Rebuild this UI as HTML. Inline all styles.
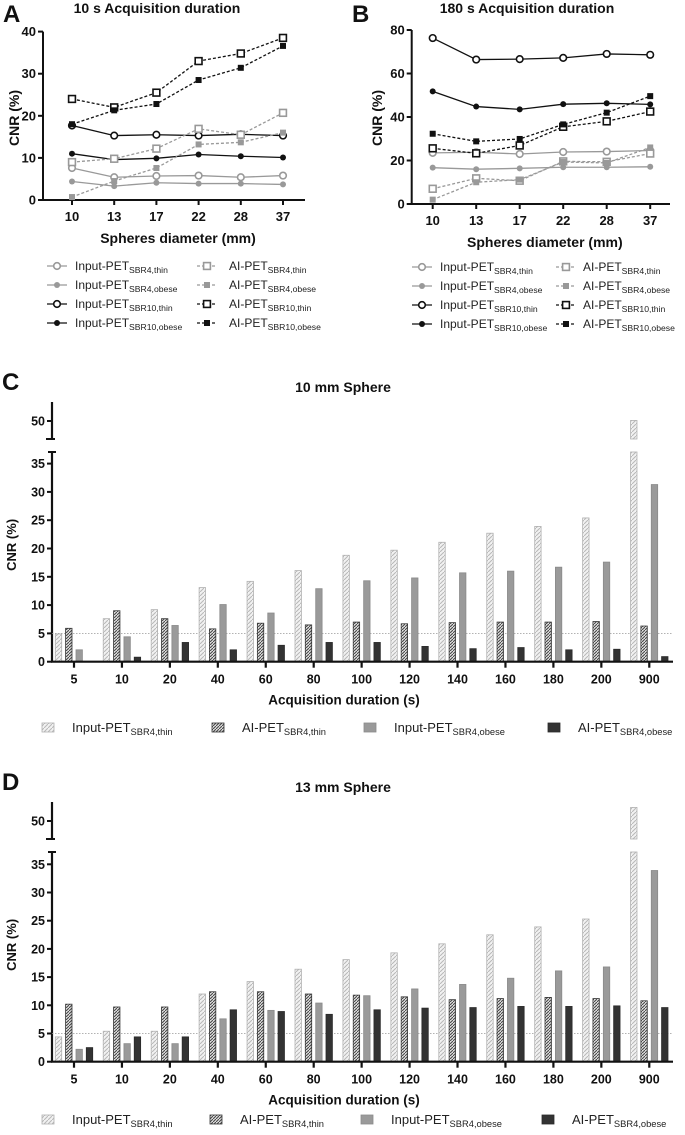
<!DOCTYPE html>
<html><head><meta charset="utf-8"><style>
body{margin:0;background:#fff}
svg{display:block;font-family:"Liberation Sans",Arial,sans-serif}
.b{font-weight:bold}
</style></head><body>
<svg id="s" width="685" height="1135" viewBox="0 0 685 1135" xmlns="http://www.w3.org/2000/svg">
<defs>
<pattern id="hatchLight" width="4" height="4" patternUnits="userSpaceOnUse"><rect width="4" height="4" fill="#f2f2f2"/><path d="M0,4 L4,0" stroke="#b8b8b8" stroke-width="1"/></pattern>
<pattern id="hatchDark" width="3" height="3" patternUnits="userSpaceOnUse"><rect width="3" height="3" fill="#e0e0e0"/><path d="M0,3 L3,0" stroke="#444" stroke-width="1"/></pattern>
</defs>
<g id="root"></g>
</svg>
<script>
// ---------- DATA ----------
const lineCats = ["10","13","17","22","28","37"];
const aInSBR4thin = [7.6,5.4,5.7,5.8,5.4,5.8];
const aInSBR4obese = [4.4,3.3,4.1,3.9,3.9,3.7];
const aInSBR10thin = [17.7,15.3,15.5,15.3,15.6,15.3];
const aInSBR10obese = [11,9.6,9.9,10.8,10.4,10.1];
const aAiSBR4thin = [9,9.8,12.2,16.9,15.5,20.7];
const aAiSBR4obese = [0.7,4.5,7.6,13.2,13.7,16];
const aAiSBR10thin = [24,22,25.5,33,34.8,38.5];
const aAiSBR10obese = [18,21.3,22.8,28.5,31.4,36.6];
const aTicks = [0,10,20,30,40];

const bInSBR4thin = [23.5,23.8,23,23.9,24.1,24.6];
const bInSBR4obese = [16.7,16,16.4,16.9,16.9,17.1];
const bInSBR10thin = [76.3,66.4,66.6,67.2,69,68.6];
const bInSBR10obese = [51.8,44.8,43.5,45.9,46.3,45.8];
const bAiSBR4thin = [7,11.8,10.7,19.6,19.4,23.2];
const bAiSBR4obese = [2,10,11.2,19.3,18.9,26];
const bAiSBR10thin = [25.6,23.3,26.9,35.5,38,42.5];
const bAiSBR10obese = [32.3,28.8,29.9,36.6,42,49.6];
const bTicks = [0,20,40,60,80];

const barCats = ["5","10","20","40","60","80","100","120","140","160","180","200","900"];
const cInThin = [4.9,7.6,9.2,13.1,14.2,16.1,18.8,19.7,21.1,22.7,23.9,25.4,50.1];
const cAiThin = [5.9,9.0,7.6,5.8,6.8,6.5,7.0,6.7,6.9,7.0,7.0,7.1,6.3];
const cInObese = [2.1,4.4,6.4,10.1,8.6,12.9,14.3,14.8,15.7,16.0,16.7,17.6,31.3];
const cAiObese = [0,0.8,3.4,2.1,2.9,3.4,3.4,2.7,2.3,2.5,2.1,2.2,0.9];
const dInThin = [4.4,5.4,5.4,12.0,14.2,16.4,18.1,19.3,20.9,22.5,23.9,25.3,52.4];
const dAiThin = [10.2,9.7,9.7,12.4,12.4,12.0,11.8,11.5,11.0,11.2,11.4,11.2,10.8];
const dInObese = [2.2,3.2,3.2,7.6,9.1,10.4,11.7,12.9,13.7,14.8,16.1,16.8,33.9];
const dAiObese = [2.5,4.4,4.4,9.2,8.9,8.4,9.2,9.5,9.6,9.8,9.8,9.9,9.6];
const barTicks = [0,5,10,15,20,25,30,35];

// ---------- HELPERS ----------
const NS="http://www.w3.org/2000/svg";
const root=document.getElementById('root');
function mk(tag,attrs,parent){const e=document.createElementNS(NS,tag);for(const k in attrs)e.setAttribute(k,attrs[k]);(parent||root).appendChild(e);return e;}
function txt(x,y,s,size,opts,parent){opts=opts||{};const t=mk('text',{x:x,y:y,'font-size':size,'text-anchor':opts.anchor||'start','font-weight':opts.bold?'bold':'normal',fill:opts.fill||'#111'},parent);if(opts.rot)t.setAttribute('transform','rotate(-90 '+x+' '+y+')');t.textContent=s;return t;}
function legText(x,y,main,sub,parent,size){const t=mk('text',{x:x,y:y,'font-size':size||12,fill:'#222'},parent);t.textContent=main;const ts=mk('tspan',{'font-size':(size||12)*0.72,dy:3},t);ts.textContent=sub;return t;}
function marker(g,type,x,y,color){
  if(type==='oc'){mk('circle',{cx:x,cy:y,r:3.3,fill:'#fff',stroke:color,'stroke-width':1.6},g);}
  else if(type==='fc'){mk('circle',{cx:x,cy:y,r:3,fill:color},g);}
  else if(type==='os'){mk('rect',{x:x-3.4,y:y-3.4,width:6.8,height:6.8,fill:'#fff',stroke:color,'stroke-width':1.6},g);}
  else {mk('rect',{x:x-3,y:y-3,width:6,height:6,fill:color},g);}
}

// ---------- LINE PANELS ----------
function linePanel(cfg){
  const g=mk('g',{});
  
  
  const xs=i=>cfg.x0+i*cfg.step;
  const ys=v=>cfg.y0-v*cfg.k;
  const top=ys(cfg.ticks[cfg.ticks.length-1]);
  const ax=mk('g',{},g);
  
  
  mk('line',{x1:cfg.axL,y1:top,x2:cfg.axL,y2:cfg.y0+1,stroke:'#111','stroke-width':2},ax);
  cfg.ticks.forEach(t=>{mk('line',{x1:cfg.axL-5,y1:ys(t),x2:cfg.axL,y2:ys(t),stroke:'#111','stroke-width':2},ax);txt(cfg.axL-7,ys(t)+4.5,String(t),13,{anchor:'end',bold:true},ax);});
  const xa=mk('g',{},g);
  
  
  mk('line',{x1:cfg.axL-1,y1:cfg.y0,x2:cfg.axR,y2:cfg.y0,stroke:'#111','stroke-width':2},xa);
  lineCats.forEach((c,i)=>{mk('line',{x1:xs(i),y1:cfg.y0,x2:xs(i),y2:cfg.y0+5,stroke:'#111','stroke-width':2},xa);txt(xs(i),cfg.y0+21,c,13,{anchor:'middle',bold:true},xa);});
  const yt=txt(cfg.ylx,cfg.yly,'CNR (%)',14,{anchor:'middle',bold:true,rot:true},g);
  
  
  const xt=txt((cfg.axL+cfg.axR)/2+4,cfg.y0+43,'Spheres diameter (mm)',14,{anchor:'middle',bold:true},g);
  
  
  const tt=txt(cfg.tx,13,cfg.title,14,{anchor:'middle',bold:true},g);
  
  
  const lt=txt(cfg.lx,22,cfg.letter,24,{bold:true},g);
  
  
  cfg.series.forEach(s=>{
    const sg=mk('g',{},g);
    
    
    const pts=s.data.map((v,i)=>xs(i)+','+ys(v)).join(' ');
    mk('polyline',{points:pts,fill:'none',stroke:s.color,'stroke-width':1.3,'stroke-dasharray':s.dash?'3,2':'none'},sg);
    s.data.forEach((v,i)=>marker(sg,s.m,xs(i),ys(v),s.color));
  });
  // legend
  const lg=mk('g',{},g);
  
  
  const order=[0,1,2,3];
  cfg.series.forEach((s,idx)=>{
    const col=idx<4?0:1,row=idx%4;
    const lx=col?cfg.legR:cfg.legL,ly=cfg.legY+row*19;
    const e=mk('g',{},lg);
    
    
    mk('line',{x1:lx,y1:ly,x2:lx+20,y2:ly,stroke:s.color,'stroke-width':1.3,'stroke-dasharray':s.dash?'3,2':'none'},e);
    marker(e,s.m,lx+10,ly,s.color);
    legText(lx+(col?cfg.legTxR:cfg.legTxL),ly+4,s.label,s.sub,e,12);
  });
}
const G='#999',K='#111';
function seriesSet(p){return [
 {key:'input-sbr4-thin',label:'Input-PET',sub:'SBR4,thin',data:p[0],color:G,m:'oc',dash:false},
 {key:'input-sbr4-obese',label:'Input-PET',sub:'SBR4,obese',data:p[1],color:G,m:'fc',dash:false},
 {key:'input-sbr10-thin',label:'Input-PET',sub:'SBR10,thin',data:p[2],color:K,m:'oc',dash:false},
 {key:'input-sbr10-obese',label:'Input-PET',sub:'SBR10,obese',data:p[3],color:K,m:'fc',dash:false},
 {key:'ai-sbr4-thin',label:'AI-PET',sub:'SBR4,thin',data:p[4],color:G,m:'os',dash:true},
 {key:'ai-sbr4-obese',label:'AI-PET',sub:'SBR4,obese',data:p[5],color:G,m:'fs',dash:true},
 {key:'ai-sbr10-thin',label:'AI-PET',sub:'SBR10,thin',data:p[6],color:K,m:'os',dash:true},
 {key:'ai-sbr10-obese',label:'AI-PET',sub:'SBR10,obese',data:p[7],color:K,m:'fs',dash:true}];}
linePanel({name:'panel-a',letter:'A',lx:3,title:'10 s Acquisition duration',tx:157,x0:72,step:42.2,y0:200,k:4.21,axL:43,axR:305,ticks:aTicks,ylx:19,yly:118,
  legL:47,legR:197,legTxL:28,legTxR:32,legY:266,
  series:seriesSet([aInSBR4thin,aInSBR4obese,aInSBR10thin,aInSBR10obese,aAiSBR4thin,aAiSBR4obese,aAiSBR10thin,aAiSBR10obese])});
linePanel({name:'panel-b',letter:'B',lx:352,title:'180 s Acquisition duration',tx:527,x0:432.7,step:43.5,y0:204,k:2.175,axL:411.7,axR:670,ticks:bTicks,ylx:382,yly:118,
  legL:412,legR:556,legTxL:28,legTxR:27,legY:267,
  series:seriesSet([bInSBR4thin,bInSBR4obese,bInSBR10thin,bInSBR10obese,bAiSBR4thin,bAiSBR4obese,bAiSBR10thin,bAiSBR10obese])});

// ---------- BAR PANELS ----------
function barPanel(cfg){
  const g=mk('g',{});
  
  
  const xs=i=>74+i*47.94;
  const ysL=v=>cfg.y0-v*cfg.k;
  const ysU=v=>cfg.y50-(v-50)*cfg.k;
  const ax=mk('g',{},g);
  
  
  const L=52;
  mk('line',{x1:L,y1:cfg.lowTop,x2:L,y2:cfg.y0,stroke:'#111','stroke-width':2.2},ax);
  mk('line',{x1:L-4,y1:cfg.lowTop,x2:L+4,y2:cfg.lowTop,stroke:'#111','stroke-width':2},ax);
  mk('line',{x1:L,y1:cfg.upTop,x2:L,y2:cfg.upBot,stroke:'#111','stroke-width':2.2},ax);
  mk('line',{x1:L-6,y1:cfg.upBot,x2:L+3,y2:cfg.upBot,stroke:'#111','stroke-width':2},ax);
  barTicks.forEach(t=>{mk('line',{x1:L-5,y1:ysL(t),x2:L,y2:ysL(t),stroke:'#111','stroke-width':2},ax);txt(L-7,ysL(t)+4.5,String(t),12.5,{anchor:'end',bold:true},ax);});
  mk('line',{x1:L-5,y1:cfg.y50,x2:L,y2:cfg.y50,stroke:'#111','stroke-width':2},ax);
  txt(L-7,cfg.y50+4.5,'50',12.5,{anchor:'end',bold:true},ax);
  const ref=mk('line',{x1:L,y1:ysL(5),x2:673,y2:ysL(5),stroke:'#999','stroke-width':0.8,'stroke-dasharray':'1.5,1.5'},g);
  
  
  const series=[
    {key:'input-thin',data:cfg.d[0],fill:'url(#hatchLight)',stroke:'#b0b0b0',off:-15.5},
    {key:'ai-thin',data:cfg.d[1],fill:'url(#hatchDark)',stroke:'#333',off:-5.2},
    {key:'input-obese',data:cfg.d[2],fill:'#9a9a9a',stroke:'#8a8a8a',off:5.2},
    {key:'ai-obese',data:cfg.d[3],fill:'#333',stroke:'#2a2a2a',off:15.5}];
  series.forEach(s=>{
    const sg=mk('g',{},g);
    
    
    s.data.forEach((v,i)=>{
      const x=xs(i)+s.off-3.2,w=6.4;
      if(v<=0)return;
      if(v>37){
        const r1=mk('rect',{x:x,y:cfg.lowTop,width:w,height:cfg.y0-cfg.lowTop,fill:s.fill,stroke:s.stroke,'stroke-width':0.8},sg);
        
        
        const yt=ysU(v);
        const r2=mk('rect',{x:x,y:yt,width:w,height:cfg.upBot-yt,fill:s.fill,stroke:s.stroke,'stroke-width':0.8},sg);
        
        
      } else {
        const r=mk('rect',{x:x,y:ysL(v),width:w,height:v*cfg.k,fill:s.fill,stroke:s.stroke,'stroke-width':0.8},sg);
        
        
      }
    });
  });
  const xa=mk('g',{},g);
  
  
  mk('line',{x1:L-1,y1:cfg.y0,x2:673,y2:cfg.y0,stroke:'#111','stroke-width':2.2},xa);
  barCats.forEach((c,i)=>{mk('line',{x1:xs(i),y1:cfg.y0,x2:xs(i),y2:cfg.y0+6,stroke:'#111','stroke-width':2.2},xa);txt(xs(i),cfg.y0+22,c,12.5,{anchor:'middle',bold:true},xa);});
  const yt=txt(16,(cfg.lowTop+cfg.y0)/2-12,'CNR (%)',13,{anchor:'middle',bold:true,rot:true},g);
  
  
  const xt=txt(344,cfg.y0+43,'Acquisition duration (s)',13.5,{anchor:'middle',bold:true},g);
  
  
  const tt=txt(343,cfg.titleY,cfg.title,14,{anchor:'middle',bold:true},g);
  
  
  const lt=txt(2,cfg.titleY-2,cfg.letter,24,{bold:true},g);
  
  
  const lg=mk('g',{},g);
  
  
  const labs=[['Input-PET','SBR4,thin'],['AI-PET','SBR4,thin'],['Input-PET','SBR4,obese'],['AI-PET','SBR4,obese']];
  series.forEach((s,i)=>{
    const e=mk('g',{},lg);
    
    
    const sx=cfg.legX[i];
    mk('rect',{x:sx,y:cfg.legY-5,width:12,height:9,fill:s.fill,stroke:s.stroke,'stroke-width':0.8},e);
    legText(sx+30,cfg.legY+4,labs[i][0],labs[i][1],e,13);
  });
}
barPanel({name:'panel-c',letter:'C',title:'10 mm Sphere',titleY:392,y0:661.7,k:5.66,y50:421,upTop:402,upBot:439,lowTop:452,
  d:[cInThin,cAiThin,cInObese,cAiObese],legX:[42,212,364,548],legY:728});
barPanel({name:'panel-d',letter:'D',title:'13 mm Sphere',titleY:792,y0:1061.7,k:5.64,y50:821,upTop:802,upBot:839,lowTop:852,
  d:[dInThin,dAiThin,dInObese,dAiObese],legX:[42,210,361,542],legY:1120});
</script>
</body></html>
